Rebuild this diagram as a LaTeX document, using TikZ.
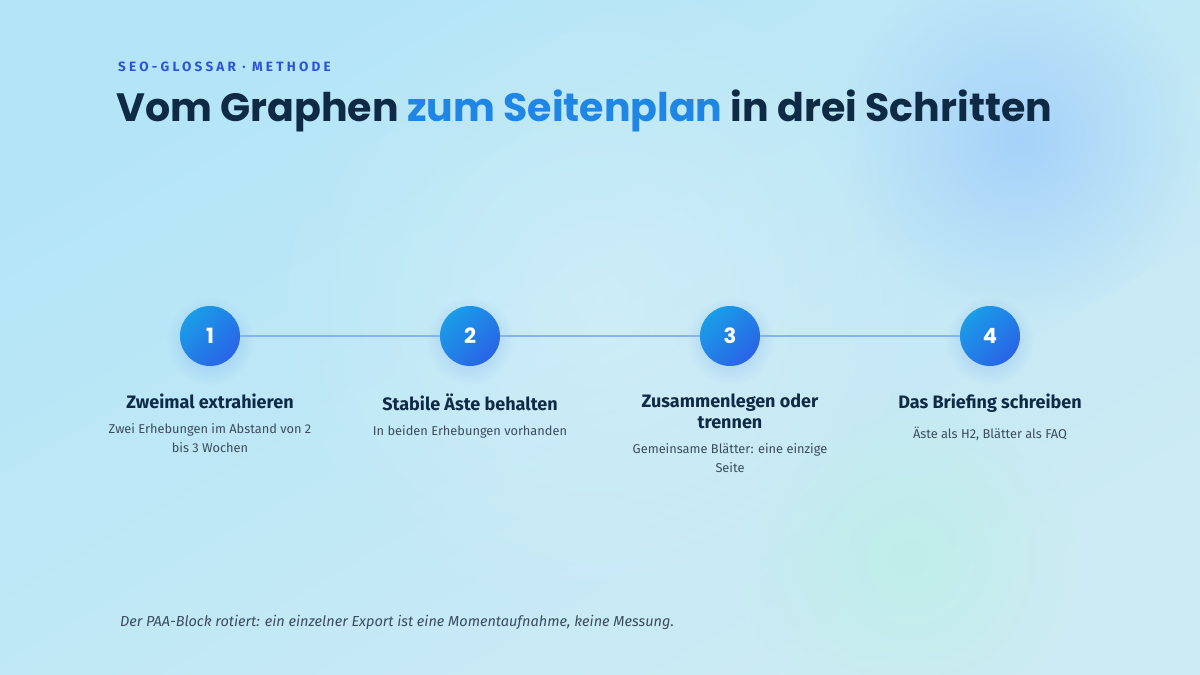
\documentclass[tikz,border=0pt]{standalone}
\usepackage{fontspec}
\setmainfont{Fira Sans}
\newfontfamily\titlefont{Poppins}
\usetikzlibrary{positioning,fadings}

\definecolor{bgA}{HTML}{B3E5F7}
\definecolor{bgB}{HTML}{CDEBF4}
\definecolor{blobBlue}{HTML}{A6D2FA}
\definecolor{blobMint}{HTML}{BDEFE6}
\definecolor{navy}{HTML}{0E2A45}
\definecolor{accent}{HTML}{1F86E6}
\definecolor{kicker}{HTML}{2A55D8}
\definecolor{stepLight}{HTML}{1A9DE8}
\definecolor{stepDark}{HTML}{2A63E6}
\definecolor{track}{HTML}{86B3EE}
\definecolor{muted}{HTML}{3B4C5D}

\tikzfading[name=softblob, inner color=transparent!0, outer color=transparent!100]

\def \stepSize {60bp}

\tikzset{
  stepdot/.style={circle, minimum size=\stepSize, inner sep=0pt,
    top color=stepLight, bottom color=stepDark, shading angle=45,
    text=white, font=\titlefont\bfseries\fontsize{21bp}{21bp}\selectfont},
  stepglow/.style={stepDark, opacity=0.28, path fading=softblob},
  steptitle/.style={align=center, text=navy, inner sep=0pt,
    font=\fontsize{18bp}{21bp}\selectfont\bfseries},
  stepnote/.style={align=center, text=muted, inner sep=0pt,
    font=\fontsize{12.8bp}{19bp}\selectfont},
}

\begin{document}
\begin{tikzpicture}[x=1bp, y=-1bp, node distance=14bp]
  \useasboundingbox (0,0) rectangle (1200,675);
  % background
  \begin{scope}
    \clip (0,0) rectangle (1200,675);
    \shade[top color=bgA, bottom color=bgB, shading angle=30] (0,0) rectangle (1200,675);
    \fill[blobBlue, path fading=softblob] (1020,140) circle (180);
    \fill[blobMint, opacity=0.8, path fading=softblob] (910,560) circle (170);
    \fill[white, opacity=0.22, path fading=softblob] (600,300) circle (330);
  \end{scope}

  % header
  \node[anchor=base west, inner sep=0pt, text=kicker,
    font=\fontsize{13.5bp}{15bp}\selectfont\bfseries\addfontfeature{LetterSpace=24}]
    (kickerline) at (118,72) {SEO-GLOSSAR · METHODE};
  \node[anchor=base west, inner sep=0pt, text=navy,
    font=\titlefont\bfseries\fontsize{39.5bp}{44bp}\selectfont]
    (headline) at (116,122) {Vom Graphen \textcolor{accent}{zum Seitenplan} in drei Schritten};

  % steps
  \fill[stepglow] (210,341) circle (44);
  \fill[stepglow] (470,341) circle (44);
  \fill[stepglow] (730,341) circle (44);
  \fill[stepglow] (990,341) circle (44);
  \node[stepdot] (s1) at (210,336) {1};
  \node[stepdot] (s2) at (470,336) {2};
  \node[stepdot] (s3) at (730,336) {3};
  \node[stepdot] (s4) at (990,336) {4};
  \draw[track, line width=2bp] (s1) -- (s2);
  \draw[track, line width=2bp] (s2) -- (s3);
  \draw[track, line width=2bp] (s3) -- (s4);

  \node[steptitle, anchor=north] (t1) at (210,394) {Zweimal extrahieren};
  \node[steptitle, anchor=north] (t2) at (470,394) {Stabile Äste behalten};
  \node[steptitle, anchor=north] (t3) at (730,394) {Zusammenlegen oder\\trennen};
  \node[steptitle, anchor=north] (t4) at (990,394) {Das Briefing schreiben};

  \node[stepnote, below=of t1] (n1) {Zwei Erhebungen im Abstand von 2\\bis 3 Wochen};
  \node[stepnote, below=of t2] (n2) {In beiden Erhebungen vorhanden};
  \node[stepnote, below=of t3] (n3) {Gemeinsame Blätter: eine einzige\\Seite};
  \node[stepnote, below=of t4] (n4) {Äste als H2, Blätter als FAQ};

  % footer
  \node[anchor=base west, inner sep=0pt, text=muted,
    font=\fontsize{14.5bp}{17bp}\selectfont\itshape]
    (footnote) at (120,626) {Der PAA-Block rotiert: ein einzelner Export ist eine Momentaufnahme, keine Messung.};
\end{tikzpicture}
\end{document}
